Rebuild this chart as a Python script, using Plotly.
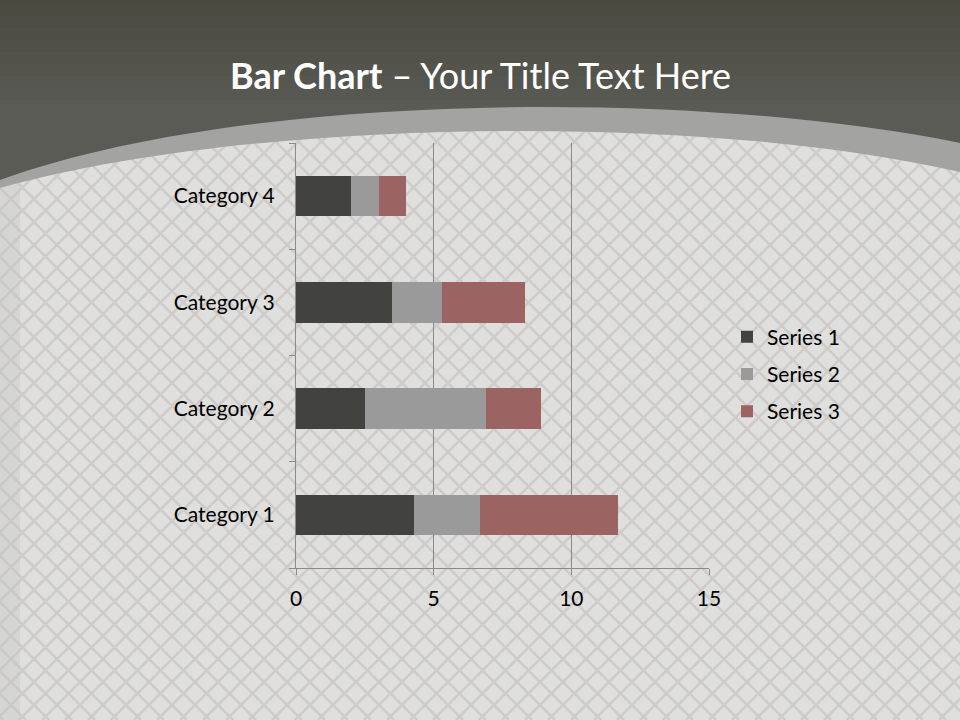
import plotly.graph_objects as go

categories = ["Category 1", "Category 2", "Category 3", "Category 4"]
series_names = ["Series 1", "Series 2", "Series 3"]
series1 = [4.3, 2.5, 3.5, 2.0]
series2 = [2.4, 4.4, 1.8, 1.0]
series3 = [5.0, 2.0, 3.0, 1.0]
x_ticks = [0, 5, 10, 15]

colors = ["#42423e", "#9a9a9a", "#9c6363"]
FONT = "Lato"

# plot-area pixel box (figure is 960x720)
L, R, T, B = 296, 709, 143, 568
W, H = R - L, B - T


def px(x):
    return (x - L) / W


def py(y):
    return (B - y) / H


def P(x, y):
    return "{:.5f},{:.5f}".format(px(x), py(y))


shapes = []
# light background
shapes.append(dict(type="rect", xref="paper", yref="paper", layer="below",
                   x0=px(0), x1=px(960), y0=py(720), y1=py(0),
                   fillcolor="#dfdfde", line_width=0))
# lattice
step = 23
for c in range(-740, 980, step):
    shapes.append(dict(type="line", xref="paper", yref="paper", layer="below",
                       x0=px(c), y0=py(0), x1=px(c + 720), y1=py(720),
                       line=dict(color="#cecbc9", width=2.5)))
    shapes.append(dict(type="line", xref="paper", yref="paper", layer="below",
                       x0=px(c + 720), y0=py(0), x1=px(c), y1=py(720),
                       line=dict(color="#cecbc9", width=2.5)))
# left darker strip
shapes.append(dict(type="rect", xref="paper", yref="paper", layer="below",
                   x0=px(0), x1=px(20), y0=py(720), y1=py(0),
                   fillcolor="#c6c6c5", opacity=0.4, line_width=0))


def arc_shape(y_left, c1, c2, y_right):
    return ("M " + P(0, 0) + " L " + P(960, 0) + " L " + P(960, y_right) +
            " C " + P(*c2) + " " + P(*c1) + " " + P(0, y_left) + " Z")


# mid gray band
shapes.append(dict(type="path", xref="paper", yref="paper", layer="below",
                   path=arc_shape(188, (250, 118), (700, 112), 172),
                   fillcolor="#a3a3a2", line_width=0))
# dark header
shapes.append(dict(type="path", xref="paper", yref="paper", layer="below",
                   path=arc_shape(180, (250, 90), (700, 90), 143),
                   fillcolor="#5b5b56", line_width=0))
# header gradient (darker toward the top)
for yb in range(100, 0, -12):
    shapes.append(dict(type="rect", xref="paper", yref="paper", layer="below",
                       x0=px(0), x1=px(960), y0=py(yb), y1=py(0),
                       fillcolor="#3e3e39", opacity=0.08, line_width=0))

fig = go.Figure()
for name, vals, col in zip(series_names, [series1, series2, series3], colors):
    fig.add_trace(go.Bar(
        y=categories, x=vals, name=name, orientation="h",
        marker=dict(color=col, line_width=0), legendgroup=name,
    ))

fig.update_layout(
    width=960, height=720,
    margin=dict(l=L, r=960 - R, t=T, b=720 - B, autoexpand=False),
    paper_bgcolor="#dfdfde",
    plot_bgcolor="rgba(0,0,0,0)",
    barmode="stack", bargap=0.62,
    font=dict(family=FONT, size=21, color="#000000"),
    shapes=shapes,
    showlegend=True,
    legend=dict(x=px(727), xanchor="left", y=py(374), yanchor="middle",
                traceorder="grouped", tracegroupgap=7,
                bgcolor="rgba(0,0,0,0)", font=dict(size=21, family=FONT)),
    annotations=[dict(
        text="<b>Bar Chart</b> – Your Title Text Here",
        xref="paper", yref="paper", x=px(480), y=py(75),
        xanchor="center", yanchor="middle", showarrow=False,
        font=dict(family=FONT, size=36, color="#ffffff"),
    )],
)
fig.update_xaxes(
    range=[0, 15], tickvals=x_ticks, ticktext=[str(v) for v in x_ticks],
    showgrid=True, gridcolor="#8a8a8a", gridwidth=1,
    showline=True, linecolor="#8a8a8a", linewidth=1,
    ticks="outside", ticklen=6, tickcolor="#8a8a8a",
    zeroline=False, tickfont=dict(size=21, family=FONT),
    ticklabelstandoff=6,
)
fig.update_yaxes(
    type="category", categoryorder="array", categoryarray=categories,
    showgrid=False, showline=True, linecolor="#8a8a8a", linewidth=1,
    ticks="outside", ticklen=6, tickcolor="#8a8a8a", tickson="boundaries",
    ticklabelstandoff=16, tickfont=dict(size=21, family=FONT),
)

fig.write_html(
    "out.html",
    config={"displayModeBar": False},
    post_script="document.body.style.margin='0';document.body.style.overflow='hidden';",
)
